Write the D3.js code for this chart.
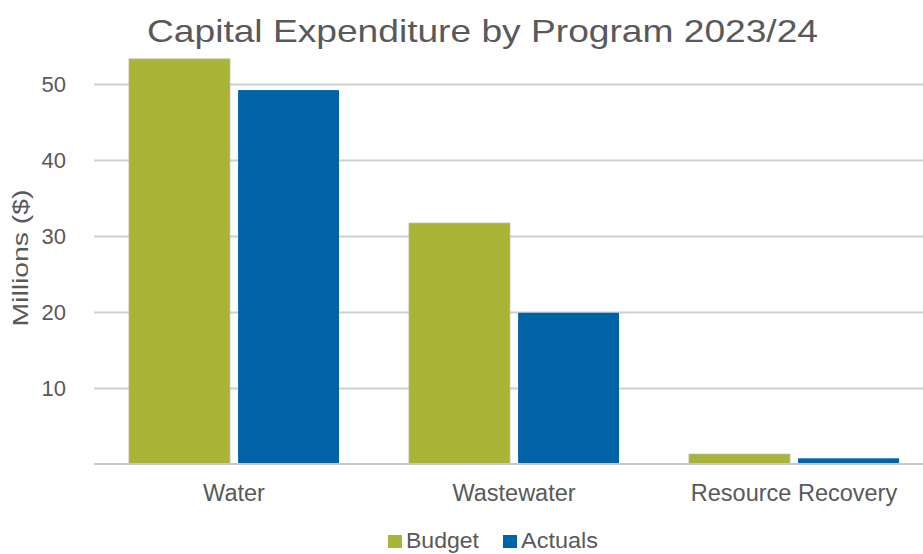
<!DOCTYPE html>
<html>
<head>
<meta charset="utf-8">
<script src="https://cdn.jsdelivr.net/npm/d3@7"></script>
<style>
  html, body { margin: 0; padding: 0; background: #fff; }
  svg { display: block; font-family: "Liberation Sans", Arial, sans-serif; }
</style>
</head>
<body>
<svg id="chart" width="923" height="554"></svg>
<script>
// Capital expenditure by program, millions of dollars
const categories = ["Water", "Wastewater", "Resource Recovery"];
const seriesNames = ["Budget", "Actuals"];
const budget = [53.3, 31.7, 1.3];
const actuals = [49.2, 19.9, 0.75];
const yTicks = [10, 20, 30, 40, 50];
const colors = ["#A9B436", "#0063A6"];

const svg = d3.select("#chart");
const plot = { left: 94, right: 934, top: 46, bottom: 464 };

const x0 = d3.scaleBand().domain(categories)
  .range([plot.left, plot.right]).paddingInner(0.25).paddingOuter(0.125);
const x1 = d3.scaleBand().domain(seriesNames)
  .range([0, x0.bandwidth()]).paddingInner(0.075).paddingOuter(0);
const y = d3.scaleLinear().domain([0, 50]).range([plot.bottom, plot.bottom - 380]);

const FONT = "Liberation Sans, Arial, sans-serif";
const TEXT = "#595959";

// Title
svg.append("text")
  .attr("x", 482.5).attr("y", 42)
  .attr("text-anchor", "middle")
  .attr("font-size", 32)
  .attr("textLength", 671).attr("lengthAdjust", "spacingAndGlyphs")
  .attr("fill", TEXT)
  .text("Capital Expenditure by Program 2023/24");

// Gridlines and y labels
const yAxis = d3.axisLeft(y).tickValues(yTicks).tickSize(-(plot.right - plot.left)).tickPadding(28);
const gy = svg.append("g").attr("transform", `translate(${plot.left},0)`).call(yAxis);
gy.select(".domain").remove();
gy.selectAll(".tick line").attr("stroke", "#d0d0d0").attr("stroke-width", 2);
gy.selectAll(".tick text").attr("fill", TEXT).attr("font-size", 22).attr("font-family", FONT);

// Axis title
svg.append("text")
  .attr("transform", `translate(28,258) rotate(-90)`)
  .attr("text-anchor", "middle")
  .attr("font-size", 22)
  .attr("textLength", 137).attr("lengthAdjust", "spacingAndGlyphs")
  .attr("fill", TEXT)
  .text("Millions ($)");

// Bars
const rows = categories.map((c, i) => ({ cat: c, values: [budget[i], actuals[i]] }));
const groups = svg.append("g").selectAll("g").data(rows).join("g")
  .attr("transform", d => `translate(${x0(d.cat)},0)`);
groups.selectAll("rect")
  .data(d => d.values.map((v, j) => ({ name: seriesNames[j], value: v, j })))
  .join("rect")
  .attr("x", d => x1(d.name))
  .attr("width", x1.bandwidth())
  .attr("y", d => y(d.value))
  .attr("height", d => y(0) - y(d.value))
  .attr("fill", d => colors[d.j])
  .attr("stroke", d => d.j === 0 ? "#b4b4a0" : "none")
  .attr("stroke-width", 0.8);

// Baseline
svg.append("line")
  .attr("x1", plot.left).attr("x2", plot.right)
  .attr("y1", y(0)).attr("y2", y(0))
  .attr("stroke", "#c8c8c8").attr("stroke-width", 2);

// Category axis labels
const xAxis = d3.axisBottom(x0).tickSize(0).tickPadding(20);
const gx = svg.append("g").attr("transform", `translate(0,${y(0)})`).call(xAxis);
gx.select(".domain").remove();
gx.selectAll(".tick text").attr("fill", TEXT).attr("font-size", 23.5).attr("font-family", FONT);

// Legend
const legend = svg.append("g");
const legendX = [388, 503];
const legendTextLen = [73, 77];
seriesNames.forEach((name, i) => {
  legend.append("rect")
    .attr("x", legendX[i]).attr("y", 535)
    .attr("width", 14).attr("height", 13)
    .attr("fill", colors[i]);
  legend.append("text")
    .attr("x", legendX[i] + 18).attr("y", 548)
    .attr("font-size", 21.5).attr("fill", TEXT)
    .attr("textLength", legendTextLen[i]).attr("lengthAdjust", "spacingAndGlyphs")
    .text(name);
});
</script>
</body>
</html>
